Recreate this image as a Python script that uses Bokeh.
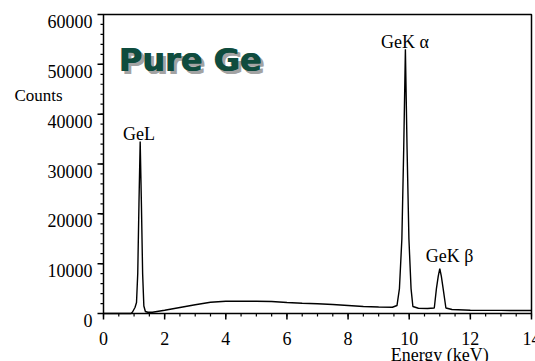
from bokeh.plotting import figure
from bokeh.models import Range1d, Label
from bokeh.embed import file_html
from bokeh.resources import INLINE

# EDS spectrum of pure germanium: energy (keV) vs counts
energy_kev = [0.0, 0.90, 0.95, 1.03, 1.08, 1.12, 1.16, 1.20, 1.24, 1.28, 1.32, 1.37,
              1.45, 1.6, 2.0, 2.5, 3.0, 3.5, 4.0, 4.5, 5.0, 5.5, 6.0, 6.5, 7.0,
              7.5, 8.0, 8.5, 9.0, 9.45, 9.6, 9.68, 9.76, 9.82, 9.875, 9.93, 9.99,
              10.06, 10.12, 10.3, 10.6, 10.82, 10.89, 10.95, 11.0, 11.05, 11.11,
              11.2, 11.4, 12.0, 13.0, 14.0]
counts = [0, 0, 300, 1200, 2200, 8000, 22000, 34500, 22000, 8000, 1500, 400,
          250, 250, 650, 1200, 1750, 2250, 2450, 2450, 2450, 2400, 2200, 2050, 1950,
          1800, 1600, 1400, 1300, 1250, 1600, 5000, 15000, 33000, 53000, 33000, 15000,
          5000, 1400, 1050, 1000, 1100, 5000, 7500, 9000, 7500, 5000,
          1100, 800, 660, 620, 600]

# Characteristic lines and their peak positions
line_names = ["GeL", "GeK α", "GeK β"]
line_energy = [1.20, 9.875, 11.0]
line_counts = [34500, 53000, 9000]

x_ticks = [0, 2, 4, 6, 8, 10, 12, 14]
x_minor = [i * 0.5 for i in range(29)]
y_ticks = [0, 10000, 20000, 30000, 40000, 50000, 60000]
y_minor = [i * 2000 for i in range(31)]
x_tick_labels = [str(t) for t in x_ticks]
y_tick_labels = [str(t) for t in y_ticks]

x_name = "Energy (keV)"
y_name = "Counts"

serif = "Liberation Serif"

# Canvas and margins (px) around the data box
W, H = 535, 361
m_left, m_right, m_top, m_bottom = 103, 4, 14, 48
top_pad = 8          # small strip kept above the frame
x0, x1 = x_ticks[0], x_ticks[-1]
y0, y1 = y_ticks[0], y_ticks[-1]
kx = (x1 - x0) / (W - m_left - m_right)   # data units per px
ky = (y1 - y0) / (H - m_top - m_bottom)
major_len, minor_len = 6, 3               # tick lengths, px

# The frame spans nearly the whole canvas so that the texts outside the box
# are drawn as well; the box, its axes and ticks are drawn in data space.
p = figure(width=W, height=H, output_backend="svg", toolbar_location=None,
           title_location=None,
           x_axis_location=None, y_axis_location=None,
           x_range=Range1d(x0 - m_left * kx, x1 + m_right * kx),
           y_range=Range1d(y0 - m_bottom * ky, y1 + (m_top - top_pad) * ky),
           min_border=0, min_border_left=0, min_border_right=0,
           min_border_top=top_pad, min_border_bottom=0)
p.background_fill_color = "white"
p.border_fill_color = "white"
p.outline_line_color = None
p.grid.visible = False

# Box around the data area
p.quad(left=x0, right=x1, bottom=y0, top=y1, fill_color=None,
       line_color="black", line_width=1.5)

# Ticks (outside the box, on the bottom and left edges)
p.segment(x0=x_minor, y0=[y0] * len(x_minor), x1=x_minor,
          y1=[y0 - minor_len * ky] * len(x_minor), line_color="black", line_width=1.2)
p.segment(x0=x_ticks, y0=[y0] * len(x_ticks), x1=x_ticks,
          y1=[y0 - major_len * ky] * len(x_ticks), line_color="black", line_width=1.5)
p.segment(x0=[x0] * len(y_minor), y0=y_minor, x1=[x0 - minor_len * kx] * len(y_minor),
          y1=y_minor, line_color="black", line_width=1.2)
p.segment(x0=[x0] * len(y_ticks), y0=y_ticks, x1=[x0 - major_len * kx] * len(y_ticks),
          y1=y_ticks, line_color="black", line_width=1.5)

# Spectrum trace
p.line(energy_kev, counts, line_color="black", line_width=1.4)

# Tick labels
for t, s in zip(x_ticks, x_tick_labels):
    p.add_layout(Label(x=t, y=y0, text=s, text_font=serif, text_font_size="18px",
                       text_color="black", text_align="center",
                       text_baseline="alphabetic", y_offset=-25))
for t, s in zip(y_ticks, y_tick_labels):
    p.add_layout(Label(x=x0, y=t, text=s, text_font=serif, text_font_size="18px",
                       text_color="black", text_align="right",
                       text_baseline="alphabetic", x_offset=-11, y_offset=-7))

# Axis names
p.add_layout(Label(x=x0, y=y1, text=y_name, text_font=serif,
                   text_font_size="17px", text_color="black",
                   text_align="left", text_baseline="alphabetic",
                   x_offset=-89, y_offset=-81))
p.add_layout(Label(x=11.0, y=y0, text=x_name, text_font=serif,
                   text_font_size="18px", text_color="black",
                   text_align="center", text_baseline="alphabetic",
                   y_offset=-41))

# Line labels above each peak
label_dx = [-0.04, -0.015, 0.32]
label_dy = [1600, 1580, 2440]
for name, e, c, dx, dy in zip(line_names, line_energy, line_counts, label_dx, label_dy):
    p.add_layout(Label(x=e + dx, y=c + dy, text=name, text_font=serif,
                       text_font_size="18px", text_color="black",
                       text_align="center", text_baseline="alphabetic"))

# Title with drop shadow
title_text = "Pure Ge"
for off, color in ((3, "#a3a3a3"), (0, "#0f4c3e")):
    for thicken in (0, 0.8):
        p.add_layout(Label(x=0.49, y=50770, text=title_text, text_font="DejaVu Sans",
                           text_font_style="bold", text_font_size="32px",
                           text_color=color, x_offset=off + thicken, y_offset=-off,
                           text_align="left", text_baseline="alphabetic"))

open("out.html", "w").write(file_html(p, INLINE))
